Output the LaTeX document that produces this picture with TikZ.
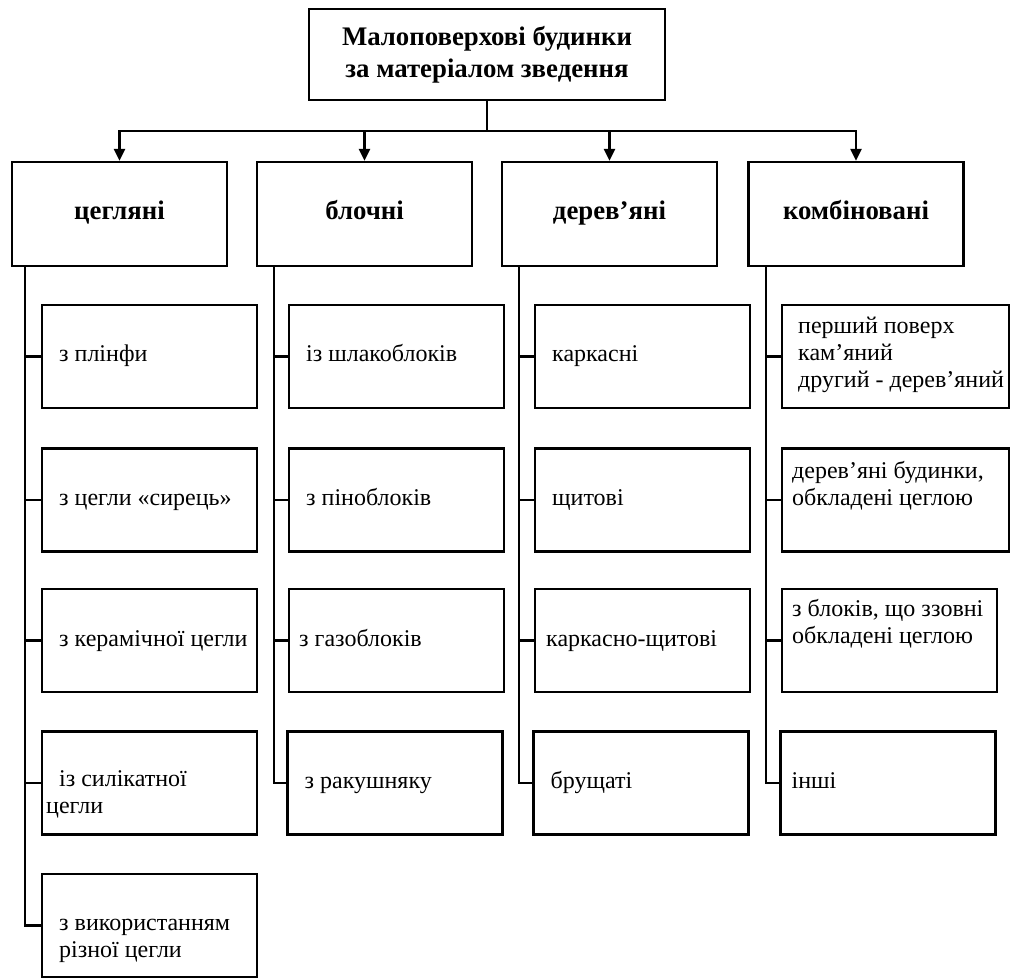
\documentclass[tikz,border=0pt]{standalone}
\usepackage{fontspec}
\setmainfont{Liberation Serif}
\usetikzlibrary{arrows.meta}

\tikzset{
  head/.style={draw, line width=1.2pt, inner sep=0pt, minimum width=178pt, minimum height=45.5pt,
    align=center, font=\fontsize{13.4}{16}\selectfont\bfseries},
  kind/.style={draw, line width=1.2pt, inner sep=0pt, minimum width=107.5pt, minimum height=52pt,
    text height=9pt, text depth=3pt, font=\fontsize{13.4}{15}\selectfont\bfseries},
  item/.style={draw, line width=1.2pt, inner sep=0pt, minimum width=107.5pt, minimum height=51.5pt},
  wide/.style={item, minimum width=113.5pt},
  txt/.style={anchor=west, inner sep=0pt, font=\fontsize{12}{13.5}\selectfont,
    text height=8pt, text depth=2.5pt},
  mtxt/.style={anchor=west, inner sep=0pt, font=\fontsize{12}{13.5}\selectfont, align=left},
  link/.style={line width=1.2pt},
  arr/.style={line width=1.2pt, -{Triangle[length=6pt,width=5.5pt]}}
}

\begin{document}
\begin{tikzpicture}[x=0.5pt,y=-0.5pt]
  \useasboundingbox (0,0) rectangle (1012,978);
  % title
  \draw (487,54.5) node[head] (top){Малоповерхові будинки\\за матеріалом зведення};
  % kinds of material
  \draw
    (119.5,214) node[kind] (c1){цегляні}
    (364.5,214) node[kind] (c2){блочні}
    (609.5,214) node[kind] (c3){дерев’яні}
    (856,214) node[kind] (c4){комбіновані};
  % boxes of the four columns
  \draw
    (149.5,356.5) node[item] (a1){}
    (149.5,500) node[item] (a2){}
    (149.5,640.5) node[item] (a3){}
    (149.5,783) node[item] (a4){}
    (149.5,925.5) node[item] (a5){}
    (396.5,356.5) node[item] (b1){}
    (396.5,500) node[item] (b2){}
    (396.5,640.5) node[item] (b3){}
    (395,783) node[item] (b4){}
    (642.5,356.5) node[item] (d1){}
    (642.5,500) node[item] (d2){}
    (642.5,640.5) node[item] (d3){}
    (641,783) node[item] (d4){}
    (895.5,356.5) node[wide] (e1){}
    (895.5,500) node[wide] (e2){}
    (889.5,640.5) node[item] (e3){}
    (888,783) node[item] (e4){};
  % texts
  \node[txt] (a1t) at ([xshift=9pt]a1.west) {з плінфи};
  \node[txt] (a2t) at ([xshift=9pt]a2.west) {з цегли «сирець»};
  \node[txt] (a3t) at ([xshift=9pt]a3.west) {з керамічної цегли};
  \node[mtxt] (a4t) at ([xshift=2.5pt,yshift=-5.5pt]a4.west) {\hspace*{6.5pt}із силікатної\\цегли};
  \node[mtxt] (a5t) at ([xshift=9pt,yshift=-7.5pt]a5.west) {з використанням\\різної цегли};
  \node[txt] (b1t) at ([xshift=9pt]b1.west) {із шлакоблоків};
  \node[txt] (b2t) at ([xshift=9pt]b2.west) {з піноблоків};
  \node[txt] (b3t) at ([xshift=5.5pt]b3.west) {з газоблоків};
  \node[txt] (b4t) at ([xshift=9pt]b4.west) {з ракушняку};
  \node[txt] (d1t) at ([xshift=9pt]d1.west) {каркасні};
  \node[txt] (d2t) at ([xshift=9pt]d2.west) {щитові};
  \node[txt] (d3t) at ([xshift=6pt]d3.west) {каркасно-щитові};
  \node[txt] (d4t) at ([xshift=9pt]d4.west) {брущаті};
  \node[mtxt] (e1t) at ([xshift=8.5pt,yshift=1pt]e1.west) {перший поверх\\кам’яний\\другий - дерев’яний};
  \node[mtxt] (e2t) at ([xshift=5.5pt,yshift=7pt]e2.west) {дерев’яні будинки,\\обкладені цеглою};
  \node[mtxt] (e3t) at ([xshift=5.5pt,yshift=8.5pt]e3.west) {з блоків, що ззовні\\обкладені цеглою};
  \node[txt] (e4t) at ([xshift=6pt]e4.west) {інші};
  % connectors
  \coordinate (bus) at (487,131);
  \coordinate (ta) at (25,266);
  \coordinate (tb) at (274,266);
  \coordinate (td) at (519,266);
  \coordinate (te) at (766,266);
  \begin{scope}[link]
    \draw (top) -- (bus);
    \draw[arr] (bus) -| (c1.north);
    \draw[arr] (bus) -| (c2.north);
    \draw[arr] (bus) -| (c3.north);
    \draw[arr] (bus) -| (c4.north);
    \draw (ta) |- (a1.west);
    \draw (ta) |- (a2.west);
    \draw (ta) |- (a3.west);
    \draw (ta) |- (a4.west);
    \draw (ta) |- (a5.west);
    \draw (tb) |- (b1.west);
    \draw (tb) |- (b2.west);
    \draw (tb) |- (b3.west);
    \draw (tb) |- (b4.west);
    \draw (td) |- (d1.west);
    \draw (td) |- (d2.west);
    \draw (td) |- (d3.west);
    \draw (td) |- (d4.west);
    \draw (te) |- (e1.west);
    \draw (te) |- (e2.west);
    \draw (te) |- (e3.west);
    \draw (te) |- (e4.west);
  \end{scope}
\end{tikzpicture}
\end{document}
